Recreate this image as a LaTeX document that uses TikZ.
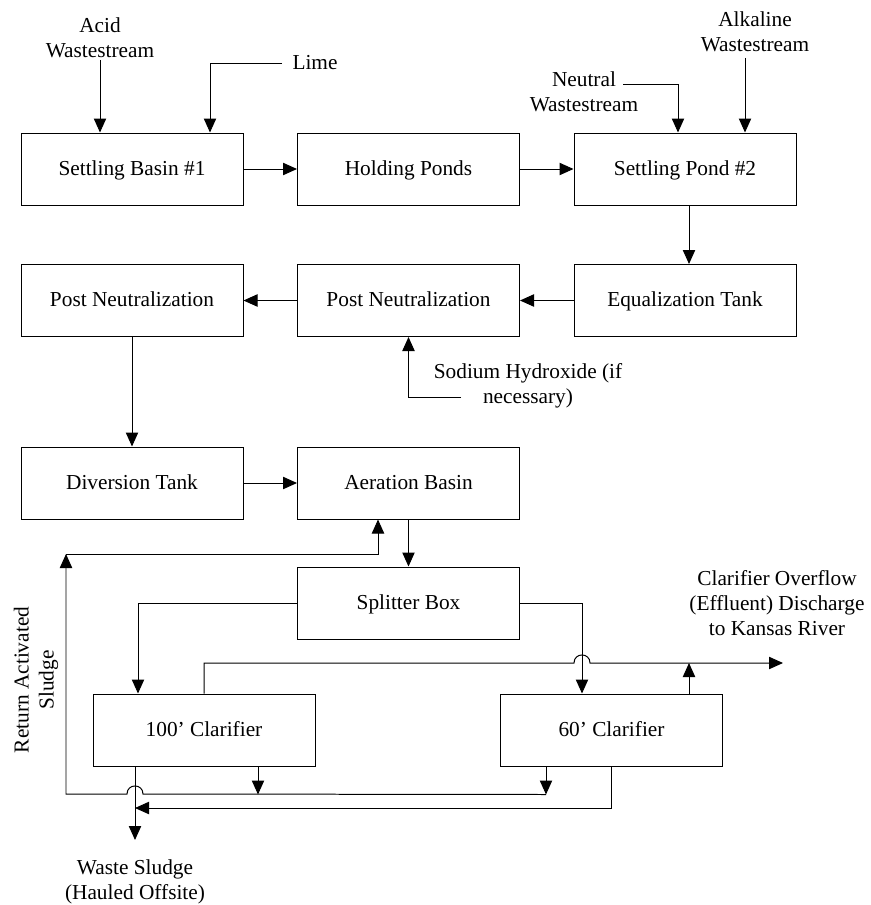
\documentclass[tikz,border=0pt]{standalone}
\usepackage{fontspec}
\setmainfont{Liberation Serif}
\usetikzlibrary{arrows.meta,calc}

\begin{document}
\begin{tikzpicture}[x=0.3mm,y=-0.3mm,line width=0.85pt,
  every node/.style={font=\fontsize{18.2}{21.3}\selectfont,inner sep=0pt},
  box/.style={rectangle,draw,minimum width=66.6mm,minimum height=21.6mm,
    text height=12pt,text depth=1pt},
  flow/.style={-{Triangle[length=4.2mm,width=3.7mm]}}]
  \useasboundingbox (0,0) rectangle (870,905);
  % process units
  \node [box] (sb1) at (132,169) {Settling Basin \#1};
  \node [box] (hp) at (408.5,169) {Holding Ponds};
  \node [box] (sp2) at (685,169) {Settling Pond \#2};
  \node [box] (pn1) at (132,300.5) {Post Neutralization};
  \node [box] (pn2) at (408.5,300.5) {Post Neutralization};
  \node [box] (eq) at (685,300.5) {Equalization Tank};
  \node [box] (div) at (132,483) {Diversion Tank};
  \node [box] (aer) at (408.5,483) {Aeration Basin};
  \node [box] (split) at (408.5,603) {Splitter Box};
  \node [box] (c100) at (204,730) {100' Clarifier};
  \node [box] (c60) at (611.5,730) {60' Clarifier};
  % streams in and out
  \node [align=center] (acid) at (100,38) {Acid\\Wastestream};
  \node (lime) at (315,63) {Lime};
  \node [align=center] (neut) at (584,92) {Neutral\\Wastestream};
  \node [align=center] (alk) at (755,32) {Alkaline\\Wastestream};
  \node [align=center] (naoh) at (528,386) {Sodium Hydroxide (if\\necessary)};
  \node [align=center] (eff) at (777,603) {Clarifier Overflow\\(Effluent) Discharge\\to Kansas River};
  \node [align=center] (waste) at (135,882) {Waste Sludge\\(Hauled Offsite)};
  \node [align=center,rotate=90] (ras) at (36,680) {Return Activated\\Sludge};
  \coordinate (acidin) at (100,60);
  \coordinate (limein) at (282,63);
  \coordinate (neutin) at (623,84);
  \coordinate (alkin) at (745,58);
  \coordinate (naohin) at (461,397);
  \coordinate (effout) at (783,663);
  \coordinate (wasteout) at (135,840);
  \coordinate (ofhop) at (582,663);
  \coordinate (bushop) at (135,794);
  \coordinate (rasbend) at (66,554);
  \coordinate (c60top) at ($(c60.north)+(77.5,0)$);
  % upper flows
  \draw [flow] (acidin) -- (acidin |- sb1.north);
  \draw [flow] (limein) -| ($(sb1.north)+(78,0)$);
  \draw [flow] (sb1.east) -- (hp.west);
  \draw [flow] (hp.east) -- (sp2.west);
  \draw [flow] (neutin) -| ($(sp2.north)+(-7,0)$);
  \draw [flow] (alkin) -- (alkin |- sp2.north);
  \draw [flow] ($(sp2.south)+(4,0)$) -- ($(eq.north)+(4,0)$);
  \draw [flow] (eq.west) -- (pn2.east);
  \draw [flow] (pn2.west) -- (pn1.east);
  \draw [flow] (naohin) -| (pn2.south);
  \draw [flow] (pn1.south) -- (div.north);
  \draw [flow] (div.east) -- (aer.west);
  \draw [flow] (aer.south) -- (split.north);
  % clarifiers
  \draw [flow] (split.west) -| ($(c100.north)+(-66,0)$);
  \draw [flow] (split.east) -| ($(c60.north)+(-29.5,0)$);
  \draw [flow] (c100.north) |- ($(ofhop)+(-8,0)$)
    .. controls +(0,-10.7) and +(0,-10.7) .. ($(ofhop)+(8,0)$) -- (effout);
  \draw [flow] (c60top) -- (c60top |- effout);
  % return and waste sludge
  \draw [flow] ($(c100.south)+(54,0)$) -- ++(0,28);
  \draw [flow] ($(c60.south)+(-65.5,0)$) -- ++(0,28);
  \draw [flow] ($(c60.south)+(-65.5,28)$) -- ($(bushop)+(8,0)$)
    .. controls +(0,-10.7) and +(0,-10.7) .. ($(bushop)+(-8,0)$) -| (rasbend);
  \draw [flow] (rasbend) -| ($(aer.south)+(-30.5,0)$);
  \draw [flow] ($(c100.south)+(-69,0)$) -- (wasteout);
  \draw [flow] (c60.south) |- ($(wasteout)+(0,-32)$);
\end{tikzpicture}
\end{document}
